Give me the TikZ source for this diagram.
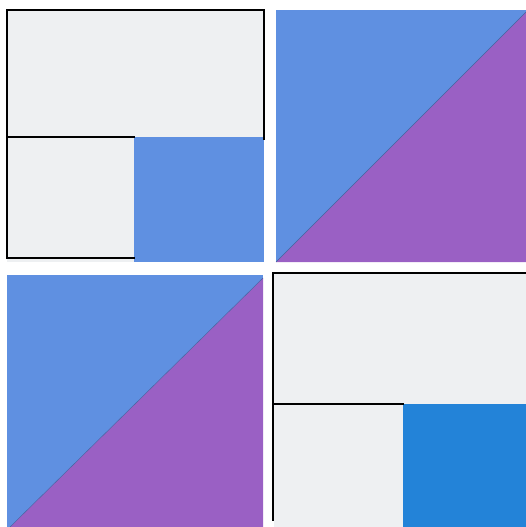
\documentclass[tikz,border=0pt]{standalone}
\begin{document}
\begin{tikzpicture}[x=1pt,y=-1pt,
  seam/.style={line width=2pt,black,line cap=rect}]
\definecolor{lightfab}{HTML}{EEF0F2}
\definecolor{bluefab}{HTML}{5F90E1}
\definecolor{purplefab}{HTML}{9A60C4}
\definecolor{brightblue}{HTML}{2383D8}
\useasboundingbox (0,0) rectangle (526,527);
\fill[white] (0,0) rectangle (526,527);
% top-left block
\fill[lightfab] (7,10) rectangle (264,262);
\fill[bluefab] (134,137) rectangle (264,262);
\draw[seam] (7,258) -- (7,10) -- (264,10) -- (264,139);
\draw[seam] (7,137) -- (134,137);
\draw[seam] (7,258) -- (134,258);
% top-right block
\fill[bluefab] (276,10) rectangle (526,262);
\fill[purplefab] (276,262) -- (526,262) -- (526,12) -- cycle;
\draw[bluefab!70!black,line width=0.4pt] (276,262) -- (526,12);
% bottom-left block
\fill[bluefab] (7,275) rectangle (263,527);
\fill[purplefab] (10,527) -- (263,527) -- (263,278) -- cycle;
\draw[bluefab!70!black,line width=0.4pt] (10,527) -- (263,278);
% bottom-right block
\fill[lightfab] (274,273) rectangle (526,527);
\fill[brightblue] (403,404) rectangle (526,527);
\draw[seam] (526,273) -- (273,273) -- (273,520);
\draw[seam] (273,404) -- (403,404);
\end{tikzpicture}
\end{document}
